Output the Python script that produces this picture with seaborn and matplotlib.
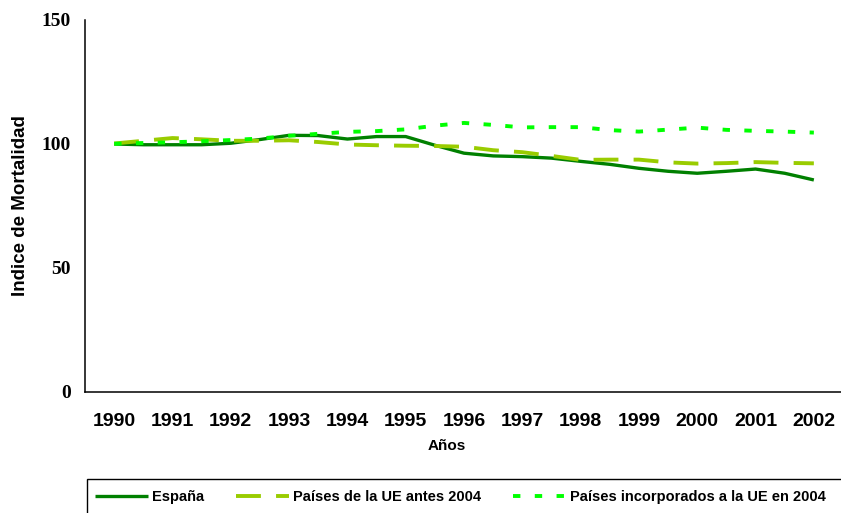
import matplotlib
matplotlib.use("Agg")
import matplotlib.pyplot as plt
from matplotlib.patches import Rectangle
import seaborn as sns
import pandas as pd

# --- data (half-year resolution) ---
periodo = [1990, 1990.5, 1991, 1991.5, 1992, 1992.5, 1993, 1993.5, 1994, 1994.5,
           1995, 1995.5, 1996, 1996.5, 1997, 1997.5, 1998, 1998.5, 1999, 1999.5,
           2000, 2000.5, 2001, 2001.5, 2002]
espana = [100.0, 99.7, 99.7, 99.7, 100.3, 101.8, 103.5, 103.4, 102.0, 103.0,
          103.0, 99.5, 96.3, 95.2, 94.9, 94.3, 93.0, 91.8, 90.2, 89.0,
          88.2, 89.0, 89.9, 88.2, 85.5]
ue_antes = [100.2, 101.3, 102.4, 101.9, 101.3, 101.3, 101.5, 100.8, 99.8, 99.5,
            99.3, 99.2, 98.9, 97.5, 96.7, 95.2, 93.6, 93.7, 93.7, 92.6,
            92.1, 92.3, 92.7, 92.4, 92.2]
ue_nuevos = [100.1, 100.4, 100.7, 101.1, 101.6, 102.2, 103.3, 104.1, 104.9, 105.2,
             105.9, 107.4, 108.5, 107.7, 106.7, 106.8, 106.8, 105.6, 105.0, 105.8,
             106.6, 105.7, 105.3, 105.0, 104.6]
anios = [1990, 1991, 1992, 1993, 1994, 1995, 1996, 1997, 1998, 1999, 2000, 2001, 2002]
series = ["España", "Países de la UE antes 2004", "Países incorporados a la UE en 2004"]
y_ticks = [0, 50, 100, 150]

df = pd.DataFrame({
    "periodo": periodo * 3,
    "valor": espana + ue_antes + ue_nuevos,
    "serie": [series[0]] * len(periodo) + [series[1]] * len(periodo) + [series[2]] * len(periodo),
})

sns.set_style("white")
plt.rcParams["font.family"] = ["Liberation Sans", "DejaVu Sans"]
plt.rcParams["font.weight"] = "bold"
for k in ["text.color", "axes.labelcolor", "xtick.color", "ytick.color", "axes.edgecolor"]:
    plt.rcParams[k] = "black"

fig = plt.figure(figsize=(8.41, 5.13), dpi=100)
W, H = 841, 513
ax = fig.add_axes([85 / W, 1 - 392 / H, 758 / W, 372 / H])

styles = {
    series[0]: dict(color="#008000", lw=2.4, dashes=None),
    series[1]: dict(color="#99CC00", lw=2.8, dashes=(6.4, 3.9)),
    series[2]: dict(color="#00FF00", lw=2.8, dashes=(1.9, 3.7)),
}
for s in series:
    st = styles[s]
    sub = df[df["serie"] == s]
    sns.lineplot(data=sub, x="periodo", y="valor", ax=ax, color=st["color"],
                 lw=st["lw"], label=s, legend=False)
    line = ax.lines[-1]
    if st["dashes"] is not None:
        line.set_dashes(st["dashes"])
        line.set_dash_capstyle("butt")
    else:
        line.set_solid_capstyle("butt")

ax.set_xlim(1989.5, 2002.5)
ax.set_ylim(0, 150)
ax.set_yticks(y_ticks)
ax.set_yticklabels([str(v) for v in y_ticks], fontfamily="Liberation Serif",
                   fontweight="bold", fontsize=14, color="black")
# category boundaries as major ticks, labels on minor ticks at category centers
ax.set_xticks([a - 0.5 for a in anios] + [anios[-1] + 0.5])
ax.set_xticklabels([])
ax.set_xticks(anios, minor=True)
ax.set_xticklabels([str(a) for a in anios], minor=True, fontsize=14,
                   fontweight="bold", color="black")
ax.tick_params(axis="x", which="major", direction="out", length=5, width=1.0, color="black")
ax.tick_params(axis="x", which="minor", length=0, pad=15)
ax.tick_params(axis="y", direction="out", length=5, width=1.0, color="black", pad=5)

for side in ["top", "right"]:
    ax.spines[side].set_visible(False)
for side in ["left", "bottom"]:
    ax.spines[side].set_color("black")
    ax.spines[side].set_linewidth(1.1)

ax.set_xlabel("Años", fontsize=11, fontweight="bold", color="black")
ax.xaxis.set_label_coords((447 - 85) / 758, (392 - 439) / 372)
ax.set_ylabel("Indice de Mortalidad", fontsize=13.5, fontweight="bold", color="black")
ax.yaxis.set_label_coords((29 - 85) / 758, 0.5)
ax.grid(False)

# legend box (extends past the right and bottom edges as in the reference)
fig.patches.append(Rectangle((87 / W, 1 - 520 / H), 770 / W, 41 / H,
                             transform=fig.transFigure, fill=False,
                             edgecolor="black", linewidth=1.0, zorder=5))
handles = ax.lines[:3]
leg = fig.legend(handles, series, loc="center left", bbox_to_anchor=(87 / W, 1 - 497 / H),
                 ncol=3, fontsize=10.5, frameon=False,
                 handlelength=3.63, handletextpad=0.27, columnspacing=2.2, borderpad=0.55,
                 borderaxespad=0)
for t in leg.get_texts():
    t.set_fontweight("bold")
    t.set_color("black")

fig.savefig("out.png", dpi=100)
